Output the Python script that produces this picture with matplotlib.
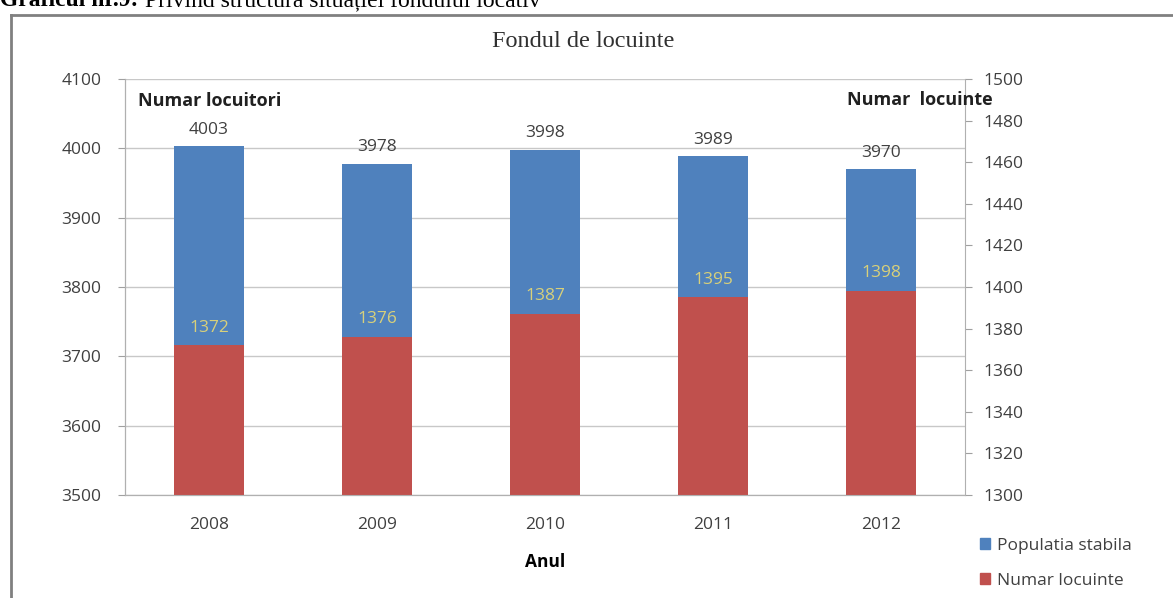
import numpy as np
import matplotlib.pyplot as plt
from matplotlib.lines import Line2D
from matplotlib.patches import Patch

ani = ['2008', '2009', '2010', '2011', '2012']
populatie = [4003, 3978, 3998, 3989, 3970]
locuinte = [1372, 1376, 1387, 1395, 1398]

albastru = '#4F81BD'
rosu = '#C0504D'
gri_text = '#404040'
sans = 'Open Sans'
fs = 12.5

fig = plt.figure(figsize=(11.73, 5.98), dpi=100)
ax = fig.add_axes([0.1066, 0.1722, 0.7161, 0.6957])
ax2 = ax.twinx()

x = np.arange(len(ani))
w = 0.42

# populatia pe axa stanga, locuintele pe axa dreapta
ax.bar(x, np.array(populatie) - 3500, bottom=3500, width=w, color=albastru, zorder=2)
ax2.bar(x, np.array(locuinte) - 1300, bottom=1300, width=w, color=rosu, zorder=2)

ax.set_xlim(-0.5, 4.5)
ax.set_ylim(3500, 4100)
ax.set_yticks(range(3500, 4101, 100))
ax2.set_ylim(1300, 1500)
ax2.set_yticks(range(1300, 1501, 20))

ax.grid(axis='y', color='#c8c8c8', lw=1, zorder=0)
ax.set_axisbelow(True)
for a in (ax, ax2):
    a.spines['top'].set_visible(False)
    a.spines['left'].set_color('#b0b0b0')
    a.spines['right'].set_color('#b0b0b0')
    a.spines['bottom'].set_color('#b0b0b0')
    a.tick_params(colors='#a0a0a0', labelcolor=gri_text, labelsize=fs, length=5)
ax.spines['right'].set_visible(False)
ax.tick_params(axis='y', pad=12)
ax2.tick_params(axis='y', pad=8)

ax.set_xticks(x)
ax.set_xticklabels(ani, fontfamily=sans)
ax.tick_params(axis='x', length=0, pad=16)
for lab in ax.get_yticklabels() + ax2.get_yticklabels():
    lab.set_fontfamily(sans)

for xi, v in zip(x, populatie):
    ax.annotate(str(v), (xi, v), xytext=(0, 6), textcoords='offset points',
                ha='center', va='bottom', fontsize=fs, color=gri_text, fontfamily=sans)
for xi, v in zip(x, locuinte):
    ax2.annotate(str(v), (xi, v), xytext=(0, 7), textcoords='offset points',
                 ha='center', va='bottom', fontsize=fs, color='#d8d07a', fontfamily=sans)

ax.set_xlabel('Anul', fontsize=fs, fontweight='bold', fontfamily=sans, labelpad=14)
fig.text(0.118, 0.831, 'Numar locuitori', fontsize=13, fontweight='bold',
         fontfamily=sans, color='#202020', va='center')
fig.text(0.846, 0.833, 'Numar  locuinte', fontsize=13, fontweight='bold',
         fontfamily=sans, color='#202020', va='center', ha='right')

fig.text(0.497, 0.930, 'Fondul de locuinte', fontsize=17.5, fontfamily='Liberation Serif',
         color='#303030', ha='center', va='center')

handles = [Patch(color=albastru), Patch(color=rosu)]
fig.legend(handles, ['Populatia stabila', 'Numar locuinte'], loc='upper left',
           bbox_to_anchor=(0.822, 0.127), frameon=False, handlelength=0.6,
           handleheight=0.6, handletextpad=0.4, labelspacing=1.1,
           prop={'family': sans, 'size': fs}, labelcolor=gri_text)

# chenarul si titlul documentului (taiat sus)
fig.add_artist(Line2D([0.009, 0.009], [0, 0.975], transform=fig.transFigure,
                      color='#808080', lw=2))
fig.add_artist(Line2D([0.009, 1], [0.975, 0.975], transform=fig.transFigure,
                      color='#808080', lw=2))
fig.text(0.0, 1.0 - 1 / 598, 'Graficul nr.9:', fontsize=17, fontweight='bold',
         fontfamily='Liberation Serif', va='center', ha='left')
fig.text(0.124, 1.0 - 1 / 598, 'Privind structura situației fondului locativ', fontsize=17,
         fontfamily='Liberation Serif', va='center', ha='left')

plt.savefig('out.png', dpi=100)
